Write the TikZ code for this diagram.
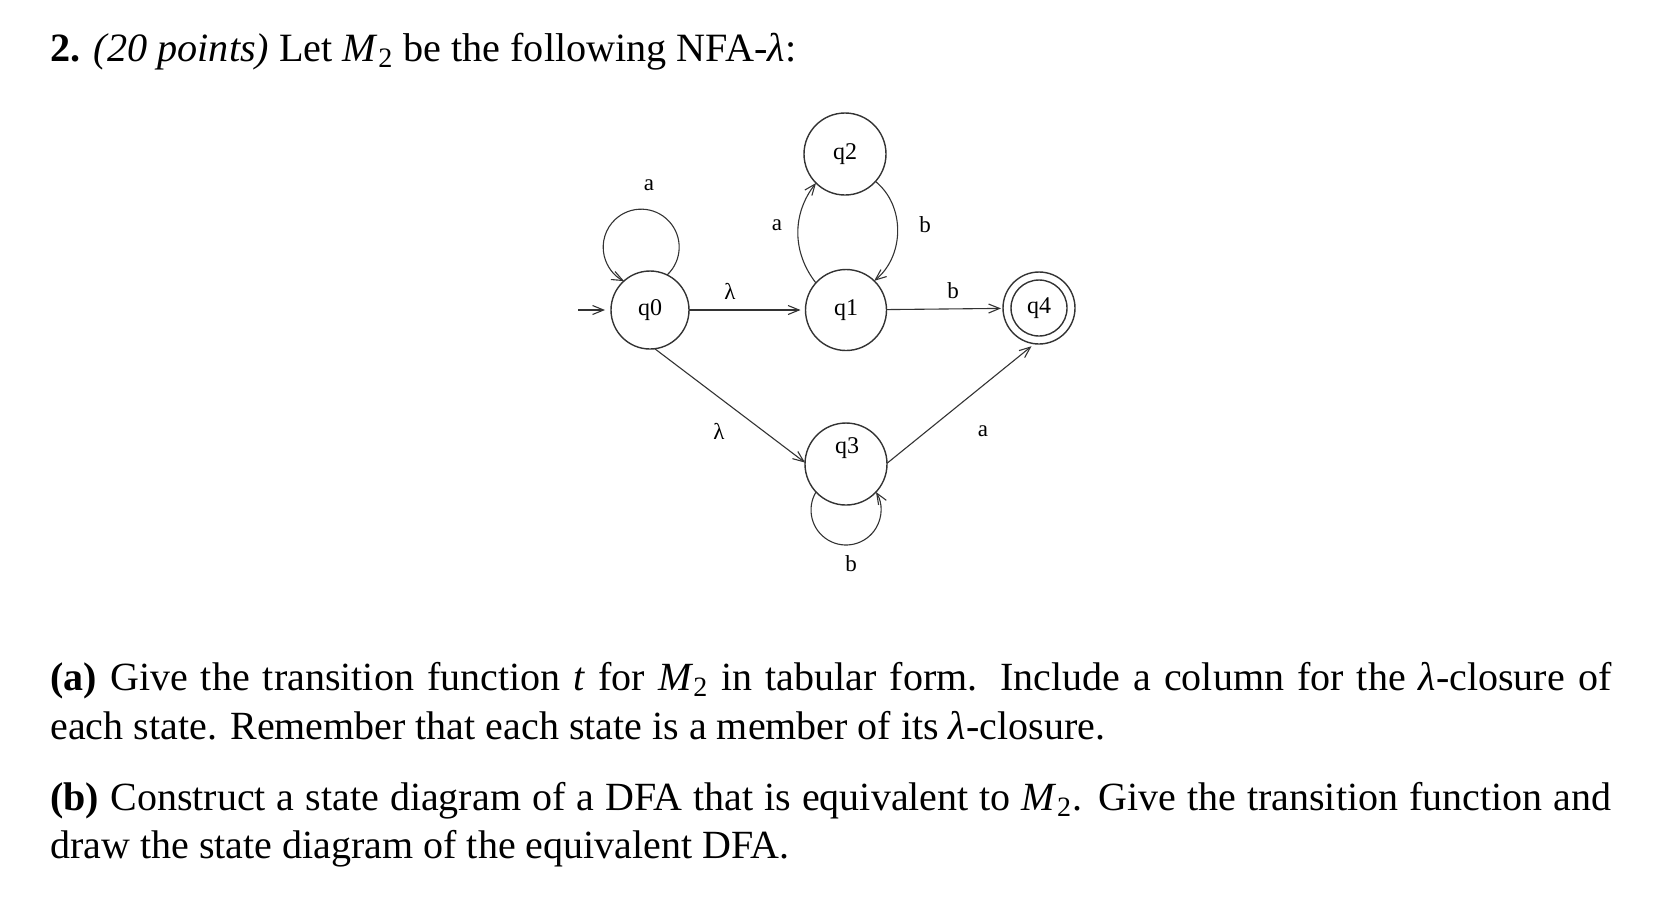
\documentclass[tikz,border=0pt]{standalone}
\usepackage{fontspec}
\setmainfont{Liberation Serif}
\usetikzlibrary{arrows.meta,calc}
\tikzset{
  st/.style={circle,draw=black!80,line width=0.7pt,inner sep=0pt,outer sep=0pt,font=\fontsize{12}{14}\selectfont},
  tr/.style={draw=black!80,line width=0.55pt,-{Straight Barb[length=5.5pt,width=4.5pt]}},
  lab/.style={inner sep=0pt,font=\fontsize{11.5}{13}\selectfont},
  txt/.style={anchor=base west,inner sep=0pt,font=\fontsize{20}{24}\selectfont},
}
\begin{document}
\begin{tikzpicture}[x=0.5pt,y=0.5pt]
\useasboundingbox (0,0) rectangle (1670,-907);
% title
\node[txt,font=\fontsize{20.1}{24}\selectfont] (title) at (50,-61) {\textbf{2.} \textit{(20 points)} Let \textit{M}\textsubscript{2} be the following NFA-\textit{λ}:};
% states
\node[st,minimum size=39pt] (q0) at (650,-310) {q0};
\node[st,minimum size=40.5pt] (q1) at (846,-310) {q1};
\node[st,minimum size=41pt] (q2) at (845,-154) {q2};
\node[st,minimum size=41pt] (q3) at (846,-464) {};
\node[lab,font=\fontsize{12}{14}\selectfont] (q3l) at (847,-448) {q3};
\node[st,minimum size=36pt] (q4) at (1039,-308) {q4};
\draw[black!80,line width=0.7pt] (q4) circle[radius=14pt];
% transitions
\coordinate (init) at (578,-310);
\draw[tr,shorten >=3pt] (init) -- (q0);
\draw[tr,shorten >=2.5pt] (q0) -- (q1);
\draw[tr,shorten >=1pt] (q1) -- (q4);
\draw[tr] (q0.-83) -- (q3.178);
\draw[tr,shorten >=2pt] (q3.1) -- (q4.263);
\draw[tr] (q1.138) to[out=128,in=232] (q2.225);
\draw[tr] (q2.-42) to[out=-39,in=39] (q1.46);
\draw[tr] (q0.64.4) arc[start angle=-47,end angle=243.3,radius=19pt];
\draw[tr] (q3.223) arc[start angle=149,end angle=391,radius=17.5pt];
% labels
\node[lab] (la1) at (649,-185) {a};
\node[lab] (la2) at (730,-291) {λ};
\node[lab] (la3) at (777,-225) {a};
\node[lab] (la4) at (925,-225) {b};
\node[lab] (la5) at (953,-291) {b};
\node[lab] (la6) at (719,-431) {λ};
\node[lab] (la7) at (983,-431) {a};
\node[lab] (la8) at (851,-564) {b};
% questions
\node[txt] (pa1) at (50,-690) {\makebox[780.5pt][s]{\textbf{(a)} Give the transition function \textit{t} for \textit{M}\textsubscript{2} in tabular form.  Include a column for the \textit{λ}-closure of}};
\node[txt] (pa2) at (50,-739) {each state. Remember that each state is a member of its \textit{λ}-closure.};
\node[txt] (pb1) at (50,-810) {\makebox[780.5pt][s]{\textbf{(b)} Construct a state diagram of a DFA that is equivalent to \textit{M}\textsubscript{2}. Give the transition function and}};
\node[txt] (pb2) at (50,-858) {draw the state diagram of the equivalent DFA.};
\end{tikzpicture}
\end{document}
